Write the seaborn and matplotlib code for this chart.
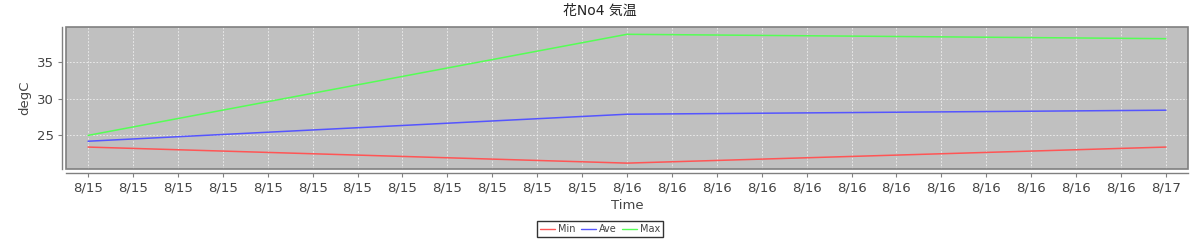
"""
花No4 気温 - Min / Ave / Max の推移
"""

import pandas as pd
import matplotlib
matplotlib.use("Agg")
import matplotlib.pyplot as plt
import matplotlib.dates as mdates
from matplotlib.patches import Rectangle
import seaborn as sns

# Data
times = ["2023-08-15 00:00", "2023-08-16 00:00", "2023-08-17 00:00"]
min_temp = [23.35, 21.15, 23.35]
ave_temp = [24.15, 27.85, 28.4]
max_temp = [24.95, 38.8, 38.2]
series_names = ["Min", "Ave", "Max"]
series_colors = ["#ff5555", "#5555ff", "#55ff55"]

df = pd.DataFrame({
    "Time": pd.to_datetime(times * 3),
    "degC": min_temp + ave_temp + max_temp,
    "series": [n for n in series_names for _ in times],
})

sns.set_theme(style="white")
plt.rcParams["font.family"] = ["DejaVu Sans", "Noto Sans CJK JP"]

TEXT = "#444444"

fig = plt.figure(figsize=(12, 2.4), dpi=100)
ax = fig.add_axes([0.055, 0.296, 0.935, 0.5915])
ax.set_facecolor("#c0c0c0")

sns.lineplot(data=df, x="Time", y="degC", hue="series",
             palette=dict(zip(series_names, series_colors)),
             linewidth=1.1, ax=ax, legend=False)

# axes ranges
ax.set_xlim(pd.Timestamp("2023-08-14 23:01"), pd.Timestamp("2023-08-17 00:59"))
ax.set_ylim(20.35, 39.8)
ax.set_yticks([25, 30, 35])

ax.xaxis.set_major_locator(mdates.HourLocator(byhour=range(0, 24, 2)))
ax.xaxis.set_major_formatter(mdates.DateFormatter("%-m/%d"))

# grid
ax.grid(True, color="#f0f0f0", linestyle=(0, (2, 2)), linewidth=0.6)
ax.set_axisbelow(True)

# spines: offset axis lines, plot border separately
for s in ["top", "right"]:
    ax.spines[s].set_visible(False)
for s in ["left", "bottom"]:
    ax.spines[s].set_position(("outward", 3))
    ax.spines[s].set_color("#808080")
    ax.spines[s].set_linewidth(1.0)
ax.add_patch(Rectangle((0, 0), 1, 1, transform=ax.transAxes, fill=False,
                       edgecolor="#808080", linewidth=1.2, clip_on=False, zorder=5))

ax.tick_params(axis="both", colors="#808080", labelcolor=TEXT, labelsize=9.5,
               length=3, width=0.8, direction="out", bottom=True, left=True, pad=3)

ax.set_xlabel("Time", fontsize=9.5, color=TEXT, labelpad=3)
ax.set_ylabel("degC", fontsize=9.5, color=TEXT, labelpad=4)

fig.suptitle("花No4 気温", fontsize=10, color="#222222", y=0.985,
             family=["DejaVu Sans", "Noto Sans CJK JP"])

# legend
handles = [plt.Line2D([], [], color=c, linewidth=1.0) for c in series_colors]
leg = fig.legend(handles, series_names, loc="center", bbox_to_anchor=(0.5, 0.046),
                 ncol=3, frameon=True, fontsize=7, handlelength=1.5,
                 handletextpad=0.3, columnspacing=0.6, borderpad=0.3,
                 borderaxespad=0, fancybox=False, labelcolor=TEXT)
leg.get_frame().set_edgecolor("black")
leg.get_frame().set_linewidth(1.0)

fig.savefig("out.png", dpi=100)
